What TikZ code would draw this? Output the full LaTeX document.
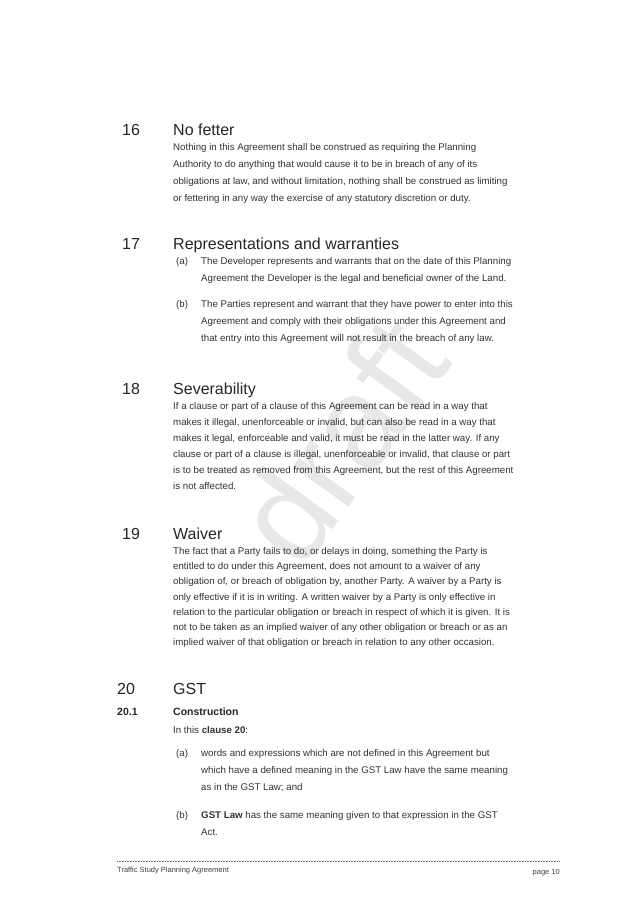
\documentclass[tikz,border=0pt]{standalone}
\usepackage{fontspec}
\setmainfont{Liberation Sans}
\begin{document}
\begin{tikzpicture}[x=1pt,y=-1pt,
  body/.style={anchor=base west,inner sep=0pt,font=\fontsize{9.7}{11}\selectfont,text=black!80},
  head/.style={anchor=base west,inner sep=0pt,font=\fontsize{16}{18}\selectfont,text=black!85},
  sub/.style={anchor=base west,inner sep=0pt,font=\fontsize{10.5}{12}\selectfont\bfseries,text=black!85},
  foot/.style={anchor=base west,inner sep=0pt,font=\fontsize{7.5}{9}\selectfont,text=black!75}]
\useasboundingbox[fill=white] (0,0) rectangle (637,901);
\node[rotate=54,font=\fontsize{130}{130}\selectfont,text=black!9] (wm) at (340,440) {draft};
% 16
\node[head] (h16n) at (122,136) {16};
\node[head] (h16) at (173,136) {No fetter};
\node[body] (p16a) at (173,151) {Nothing in this Agreement shall be construed as requiring the Planning};
\node[body] (p16b) at (173,168) {Authority to do anything that would cause it to be in breach of any of its};
\node[body] (p16c) at (173,185) {obligations at law, and without limitation, nothing shall be construed as limiting};
\node[body] (p16d) at (173,202) {or fettering in any way the exercise of any statutory discretion or duty.};
% 17
\node[head] (h17n) at (122,249) {17};
\node[head] (h17) at (173,249) {Representations and warranties};
\node[body] (l17a) at (176,264) {(a)};
\node[body] (p17a1) at (201,264) {The Developer represents and warrants that on the date of this Planning};
\node[body] (p17a2) at (201,281) {Agreement the Developer is the legal and beneficial owner of the Land.};
\node[body] (l17b) at (176,307) {(b)};
\node[body] (p17b1) at (201,307) {The Parties represent and warrant that they have power to enter into this};
\node[body] (p17b2) at (201,324) {Agreement and comply with their obligations under this Agreement and};
\node[body] (p17b3) at (201,341) {that entry into this Agreement will not result in the breach of any law.};
% 18
\node[head] (h18n) at (122,394) {18};
\node[head] (h18) at (173,394) {Severability};
\node[body] (p18a) at (173,409) {If a clause or part of a clause of this Agreement can be read in a way that};
\node[body] (p18b) at (173,425) {makes it illegal, unenforceable or invalid, but can also be read in a way that};
\node[body] (p18c) at (173,441) {makes it legal, enforceable and valid, it must be read in the latter way. If any};
\node[body] (p18d) at (173,457) {clause or part of a clause is illegal, unenforceable or invalid, that clause or part};
\node[body] (p18e) at (173,473) {is to be treated as removed from this Agreement, but the rest of this Agreement};
\node[body] (p18f) at (173,489) {is not affected.};
% 19
\node[head] (h19n) at (122,539) {19};
\node[head] (h19) at (173,539) {Waiver};
\node[body] (p19a) at (173,554) {The fact that a Party fails to do, or delays in doing, something the Party is};
\node[body] (p19b) at (173,569) {entitled to do under this Agreement, does not amount to a waiver of any};
\node[body] (p19c) at (173,584) {obligation of, or breach of obligation by, another Party. A waiver by a Party is};
\node[body] (p19d) at (173,600) {only effective if it is in writing. A written waiver by a Party is only effective in};
\node[body] (p19e) at (173,615) {relation to the particular obligation or breach in respect of which it is given. It is};
\node[body] (p19f) at (173,630) {not to be taken as an implied waiver of any other obligation or breach or as an};
\node[body] (p19g) at (173,645) {implied waiver of that obligation or breach in relation to any other occasion.};
% 20
\node[head] (h20n) at (117,694) {20};
\node[head] (h20) at (173,694) {GST};
\node[sub] (s201n) at (117,715) {20.1};
\node[sub] (s201) at (173,715) {Construction};
\node[body] (p20i) at (173,733) {In this \textbf{clause 20}:};
\node[body] (l20a) at (176,756) {(a)};
\node[body] (p20a1) at (201,756) {words and expressions which are not defined in this Agreement but};
\node[body] (p20a2) at (201,773) {which have a defined meaning in the GST Law have the same meaning};
\node[body] (p20a3) at (201,790) {as in the GST Law; and};
\node[body] (l20b) at (176,818) {(b)};
\node[body] (p20b1) at (201,818) {\textbf{GST Law} has the same meaning given to that expression in the GST};
\node[body] (p20b2) at (201,835) {Act.};
% footer
\coordinate (fl) at (117,861);
\coordinate (fr) at (560,861);
\draw[black!60,densely dotted,line width=0.6pt] (fl) -- (fr);
\node[foot] (ft) at (117,872) {Traffic Study Planning Agreement};
\node[foot,anchor=base east] (pg) at (560,874) {page 10};
\end{tikzpicture}
\end{document}
